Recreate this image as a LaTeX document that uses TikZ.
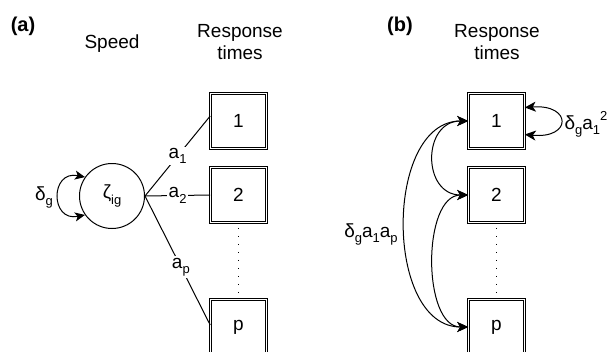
\documentclass[tikz,border=0pt]{standalone}
\usepackage{fontspec}
\setmainfont{Liberation Sans}
\usetikzlibrary{arrows.meta}
\newcommand\sbs[1]{\raisebox{-0.28em}{\fontsize{13}{13}\selectfont #1}}
\newcommand\sps[1]{\raisebox{0.45em}{\fontsize{13}{13}\selectfont #1}}
\begin{document}
\begin{tikzpicture}[x=1pt,y=-1pt,
  every node/.style={font=\fontsize{19}{22}\selectfont},
  box/.style={draw, double, line width=0.8pt, double distance=1.6pt, minimum width=55.8pt, minimum height=54.8pt, inner sep=0pt, fill=white},
  lat/.style={draw, circle, line width=1pt, minimum size=65pt, inner sep=0pt},
  con/.style={line width=1pt},
  lab/.style={fill=white, inner sep=1.5pt},
  dtip/.style={{Stealth[length=11pt,width=10pt,inset=3pt]}-{Stealth[length=11pt,width=10pt,inset=3pt]}},
  dtipsmall/.style={{Stealth[length=10pt,width=9pt,inset=2.5pt]}-{Stealth[length=10pt,width=9pt,inset=2.5pt]}},
  dots/.style={line width=1pt, dash pattern=on 1pt off 7pt},
  title/.style={font=\fontsize{20}{22}\selectfont\bfseries}]
\clip (0,0) rectangle (616,351);
% panel (a)
\node[title] (ta) at (23,26) {(a)};
\node[anchor=base] (sp) at (112,48) {Speed};
\node[align=center, anchor=base] (rta) at (240,59) {Response\\times};
\node[box] (a1) at (238.5,121) {1};
\node[box] (a2) at (238.5,195) {2};
\node[box] (ap) at (238.5,327) {p};
\draw[dots] ([yshift=-5pt]a2.south) -- ([yshift=3pt]ap.north);
\node[lat] (z) at (112,196) {ζ\sbs{ig}};
\draw[con] (z.east) -- node[lab,pos=0.5] (la1) {a\sbs{1}} ([yshift=5pt]a1.west);
\draw[con] (z.east) -- node[lab] (la2) {a\sbs{2}} (a2.west);
\draw[con] (z.east) -- node[lab,pos=0.55] (lap) {a\sbs{p}} ([yshift=2pt]ap.west);
\draw[con, dtipsmall] (z.145) .. controls (50,170) and (50,222) .. (z.215);
\node[anchor=base] (dg) at (44,200) {δ\sbs{g}};
% panel (b)
\node[title] (tb) at (400,26) {(b)};
\node[align=center, anchor=base] (rtb) at (497,59) {Response\\times};
\node[box] (b1) at (496.5,121) {1};
\node[box] (b2) at (496.5,195) {2};
\node[box] (bp) at (496.5,327) {p};
\draw[dots] ([yshift=-5pt]b2.south) -- ([yshift=3pt]bp.north);
\draw[con, dtip] ([yshift=13.5pt]b1.east) .. controls (572,104) and (572,139) .. ([yshift=-13.5pt]b1.east);
\node[anchor=base west] (lb1) at (561,129) {δ\sbs{g}a\sbs{1}\sps{2}};
\draw[con, dtip] (b1.west) .. controls (422,121) and (422,195) .. (b2.west);
\draw[con, dtip] (b2.west) .. controls (422,195) and (422,327) .. (bp.west);
\draw[con, dtip] (b1.west) .. controls (384,121) and (384,327) .. (bp.west);
\node[anchor=base] (lbp) at (371,237) {δ\sbs{g}a\sbs{1}a\sbs{p}};
\end{tikzpicture}
\end{document}
